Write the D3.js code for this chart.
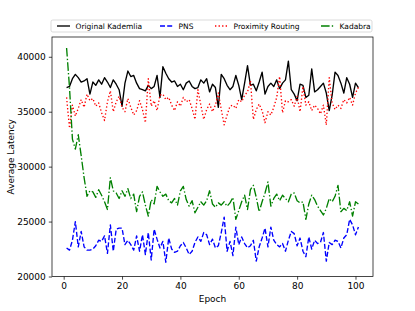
<!DOCTYPE html>
<html lang="en">
<head>
<meta charset="UTF-8">
<script src="https://d3js.org/d3.v7.min.js"></script>
<style>
  body { margin: 0; background: #fff; }
  text { font-family: "DejaVu Sans", sans-serif; fill: #000; }
</style>
<title>Average Latency</title>
</head>
<body>
<div class="canvas"></div>
<script>
const areaWidth = 415
const areaHeight = 311

// epochs 1..101
const epochs = d3.range(1, 102)

const kademlia = [37200, 37300, 38000, 38400, 38100, 37700, 37800, 38000, 36600, 37700,
  37400, 37900, 37500, 38100, 37700, 37200, 37900, 37500, 37000, 35500,
  37600, 38700, 38200, 38300, 37600, 37100, 37000, 36900, 37400, 37100,
  37300, 38300, 36300, 39100, 38500, 38000, 37700, 37800, 37300, 37500,
  37000, 37600, 37800, 37300, 37100, 37200, 37900, 37600, 38000, 36800,
  37500, 37200, 35400, 38400, 38000, 37400, 37000, 37300, 38300, 37400,
  36100, 37600, 39200, 37400, 37500, 36900, 37700, 38600, 36600, 37300,
  37600, 37300, 37900, 37100, 37600, 37900, 39600, 37000, 36600, 36000,
  37500, 37400, 36300, 36500, 38900, 36800, 37000, 37300, 37600, 36700,
  35100, 36500, 38600, 38300, 37600, 36700, 38100, 37500, 36300, 37600,
  37200]

const pns = [22600, 22400, 23300, 25000, 22700, 24100, 22700, 22400, 22400, 22500,
  22800, 23300, 23200, 23700, 22100, 24700, 22300, 24300, 24400, 24400,
  22900, 23300, 22900, 22400, 23700, 22300, 23800, 22000, 24000, 21500,
  24300, 23400, 22600, 23200, 21300, 23500, 22500, 22200, 22300, 22800,
  23100, 22600, 22000, 22300, 23100, 23600, 23200, 24000, 23800, 22900,
  23400, 22600, 22800, 24000, 25400, 22300, 23200, 21900, 24500, 22900,
  23600, 23000, 22600, 22800, 23300, 21400, 22700, 23500, 24400, 22700,
  24500, 23300, 22900, 22700, 23000, 22300, 23300, 24100, 23900, 22800,
  23500, 22300, 21800, 23600, 22500, 23300, 23000, 23100, 24000, 21400,
  23100, 22900, 23300, 23200, 22600, 23500, 23800, 25200, 24700, 23800,
  24500]

const proximity = [36300, 33500, 35600, 34600, 35300, 36100, 35400, 36600, 36000, 36200,
  35500, 35800, 34900, 34200, 35900, 36900, 35000, 35900, 36400, 35400,
  35000, 36200, 35400, 34700, 35100, 36000, 35200, 34000, 38000, 35500,
  36000, 35100, 36500, 36600, 36100, 36300, 35600, 35100, 35900, 35500,
  36300, 35900, 36100, 35300, 34300, 37000, 35600, 34300, 35200, 35700,
  35000, 35600, 36700, 35200, 33800, 34700, 35500, 35600, 35300, 36100,
  35900, 36500, 36800, 37800, 34300, 35200, 35700, 35100, 34000, 35000,
  34700, 35400, 36300, 38200, 34900, 36000, 35900, 36100, 35500, 36400,
  35000, 37300, 35600, 35900, 35100, 35600, 35300, 34800, 35600, 33800,
  38100, 35800, 35200, 35600, 35300, 36100, 35800, 36300, 35600, 36700,
  37200]

const kadabra = [40800, 37200, 32500, 31600, 32900, 31000, 29000, 27300, 27800, 27700,
  27200, 27900, 27400, 26800, 26100, 29000, 27800, 27600, 27100, 27800,
  27300, 28000, 27100, 27500, 25900, 27300, 27700, 26500, 25500, 27000,
  26600, 28200, 27700, 27300, 27500, 26900, 26700, 27100, 26500, 27800,
  28200, 27000, 26400, 26900, 25800, 26300, 26800, 26500, 26900, 27800,
  26600, 26300, 26700, 26500, 26800, 26400, 26700, 27200, 25200, 26000,
  26800, 27400, 26100, 27900, 28300, 27200, 25900, 26800, 27600, 28600,
  26400, 27100, 27500, 26900, 27400, 27100, 26800, 27500, 27600, 26900,
  26700, 26800, 25200, 26600, 27400, 27000, 26400, 26000, 25600, 26200,
  27100, 26800, 27300, 28300, 25900, 26200, 26000, 26800, 25500, 26800,
  26600]

const xTicks = [0, 20, 40, 60, 80, 100]
const yTicks = [20000, 25000, 30000, 35000, 40000]

const series = [
  { name: 'Original Kademlia', values: kademlia, color: '#000000', dash: null },
  { name: 'PNS', values: pns, color: '#0000ff', dash: '5,2.2' },
  { name: 'Proximity Routing', values: proximity, color: '#ff0000', dash: '1.35,2.2' },
  { name: 'Kadabra', values: kadabra, color: '#008000', dash: '8.6,2.2,1.35,2.2' }
]

const svg = d3.select('.canvas')
  .append('svg')
  .attr('width', areaWidth)
  .attr('height', areaHeight)

const [mt, mb, mr, ml] = [37, 34.5, 42, 52]
const graphWidth = areaWidth - ml - mr
const graphHeight = areaHeight - mt - mb

const x = d3.scaleLinear().domain([-4, 106]).range([0, graphWidth])
const y = d3.scaleLinear().domain([20000, 41800]).range([graphHeight, 0])

const graph = svg.append('g')
  .attr('transform', `translate(${ml},${mt})`)

const line = d3.line()
  .x((d, i) => x(epochs[i]))
  .y(d => y(d))

graph.append('clipPath').attr('id', 'clip')
  .append('rect').attr('width', graphWidth).attr('height', graphHeight)

const lines = graph.append('g').attr('clip-path', 'url(#clip)')
series.forEach(s => {
  lines.append('path')
    .datum(s.values)
    .attr('d', line)
    .attr('fill', 'none')
    .attr('stroke', s.color)
    .attr('stroke-width', 1.35)
    .attr('stroke-linejoin', 'round')
    .attr('stroke-dasharray', s.dash)
})

const xAxisG = graph.append('g')
  .attr('transform', `translate(0,${graphHeight})`)
  .call(d3.axisBottom(x).tickValues(xTicks).tickFormat(d3.format('d'))
    .tickSizeOuter(0).tickSize(3.2).tickPadding(3))
const yAxisG = graph.append('g')
  .call(d3.axisLeft(y).tickValues(yTicks).tickFormat(d3.format('d'))
    .tickSizeOuter(0).tickSize(3.2).tickPadding(3))

;[xAxisG, yAxisG].forEach(g => {
  g.select('.domain').remove()
  g.selectAll('line').attr('stroke', '#000').attr('stroke-width', 0.72)
  g.selectAll('text').style('font-size', '9px').attr('font-family', 'DejaVu Sans')
})

// frame
graph.append('rect')
  .attr('width', graphWidth)
  .attr('height', graphHeight)
  .attr('fill', 'none')
  .attr('stroke', '#000')
  .attr('stroke-width', 0.72)

graph.append('text')
  .attr('x', graphWidth / 2)
  .attr('y', graphHeight + 25.5)
  .attr('text-anchor', 'middle')
  .style('font-size', '9px')
  .text('Epoch')

graph.append('text')
  .attr('transform', `translate(${-38},${graphHeight / 2}) rotate(-90)`)
  .attr('text-anchor', 'middle')
  .style('font-size', '9px')
  .text('Average Latency')

// legend
const legend = svg.append('g').attr('transform', 'translate(51,20)')
legend.append('rect')
  .attr('width', 321)
  .attr('height', 12)
  .attr('rx', 1.8)
  .attr('fill', '#fff')
  .attr('fill-opacity', 0.8)
  .attr('stroke', '#cccccc')
  .attr('stroke-width', 0.7)

const legendX = [6, 109, 164, 270]
series.forEach((s, i) => {
  const item = legend.append('g').attr('transform', `translate(${legendX[i]},6)`)
  item.append('line')
    .attr('x1', 0).attr('x2', 13)
    .attr('stroke', s.color)
    .attr('stroke-width', 1.35)
    .attr('stroke-dasharray', s.dash)
  item.append('text')
    .attr('x', 18.5)
    .attr('y', 2.6)
    .style('font-size', '7.5px')
    .text(s.name)
})
</script>
</body>
</html>
